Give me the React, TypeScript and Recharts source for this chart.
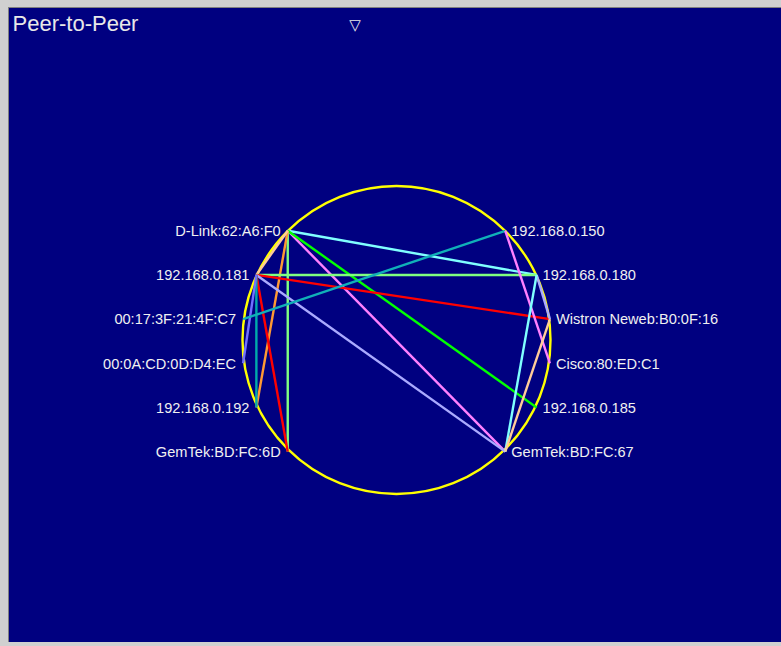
import React from 'react';
import { ScatterChart, Scatter, XAxis, YAxis, ReferenceDot } from 'recharts';

// ---- data ----
const TITLE = 'Peer-to-Peer';
const LEFT_NODES = [
  'D-Link:62:A6:F0',
  '192.168.0.181',
  '00:17:3F:21:4F:C7',
  '00:0A:CD:0D:D4:EC',
  '192.168.0.192',
  'GemTek:BD:FC:6D',
];
const RIGHT_NODES = [
  '192.168.0.150',
  '192.168.0.180',
  'Wistron Neweb:B0:0F:16',
  'Cisco:80:ED:C1',
  '192.168.0.185',
  'GemTek:BD:FC:67',
];
const EDGE_FROM = [
  'D-Link:62:A6:F0',
  'D-Link:62:A6:F0',
  'D-Link:62:A6:F0',
  'D-Link:62:A6:F0',
  'D-Link:62:A6:F0',
  'D-Link:62:A6:F0',
  '192.168.0.181',
  '192.168.0.181',
  '192.168.0.181',
  '192.168.0.181',
  '192.168.0.181',
  '192.168.0.181',
  '00:17:3F:21:4F:C7',
  '192.168.0.150',
  '192.168.0.180',
  '192.168.0.180',
  'Wistron Neweb:B0:0F:16',
];
const EDGE_TO = [
  '192.168.0.180',
  'GemTek:BD:FC:67',
  '192.168.0.185',
  'GemTek:BD:FC:6D',
  '192.168.0.192',
  '192.168.0.181',
  '192.168.0.180',
  'Wistron Neweb:B0:0F:16',
  'GemTek:BD:FC:67',
  'GemTek:BD:FC:6D',
  '192.168.0.192',
  '00:0A:CD:0D:D4:EC',
  '192.168.0.150',
  'Cisco:80:ED:C1',
  'Wistron Neweb:B0:0F:16',
  'GemTek:BD:FC:67',
  'GemTek:BD:FC:67',
];
const EDGE_COLORS = [
  '#80ffff',
  '#ff80ff',
  '#00ff00',
  '#80ff80',
  '#ff9933',
  '#ffcc99',
  '#80ff80',
  '#ff0000',
  '#aaaaff',
  '#ff0000',
  '#00aaaa',
  '#7070ff',
  '#10b0b8',
  '#ff80ff',
  '#aaaaff',
  '#80ffff',
  '#ffcc99',
];

// ---- layout ----
const W = 773;
const H = 635;
const PX = 155; // pixels per unit radius
const CX = 388.5;
const CY = 334.2;
const ROW_STEP = 0.285;
const CIRCLE_Y = (341.2 - 340) / PX;
const X_DOMAIN: [number, number] = [-CX / PX, (W - CX) / PX];
const Y_DOMAIN: [number, number] = [-(H - CY) / PX, CY / PX];

type Node = { name: string; side: 'L' | 'R'; x: number; y: number };

const buildNodes = (names: string[], side: 'L' | 'R'): Node[] =>
  names.map((name, row) => {
    const y = (2.5 - row) * ROW_STEP;
    const r = Math.sqrt(1 - y * y);
    return { name, side, x: side === 'L' ? -r : r, y };
  });

const leftNodes = buildNodes(LEFT_NODES, 'L');
const rightNodes = buildNodes(RIGHT_NODES, 'R');
const nodeMap: Record<string, Node> = {};
[...leftNodes, ...rightNodes].forEach((n) => (nodeMap[n.name] = n));

const Empty = () => <g />;

const NodeLabel = (props: any) => {
  const { cx, cy, payload } = props;
  const left = payload.side === 'L';
  return (
    <text
      x={left ? cx - 7 : cx + 6}
      y={cy}
      dy="0.36em"
      textAnchor={left ? 'end' : 'start'}
      fill="#f0f0f0"
      fontSize={14.6}
      fontFamily="'Liberation Sans', Arial, sans-serif"
    >
      {payload.name}
    </text>
  );
};

export default function App() {
  return (
    <div
      style={{
        position: 'fixed',
        left: 0,
        top: 0,
        width: 781,
        height: 646,
        background: '#d0d0d0',
        overflow: 'hidden',
      }}
    >
      <div
        style={{
          position: 'absolute',
          left: 8,
          top: 7,
          width: W,
          height: H,
          background: '#000080',
          boxShadow: 'inset 1px 1px 0 #808080',
        }}
      >
        <ScatterChart width={W} height={H} margin={{ top: 0, right: 0, bottom: 0, left: 0 }}>
          <XAxis type="number" dataKey="x" domain={X_DOMAIN} hide allowDataOverflow />
          <YAxis type="number" dataKey="y" domain={Y_DOMAIN} hide allowDataOverflow />
          <ReferenceDot
            x={0}
            y={CIRCLE_Y}
            r={154}
            fill="none"
            stroke="#ffff00"
            strokeWidth={2.4}
          />
          {EDGE_FROM.map((from, i) => (
            <Scatter
              key={'e' + i}
              data={[nodeMap[from], nodeMap[EDGE_TO[i]]]}
              fill={EDGE_COLORS[i]}
              line={{ stroke: EDGE_COLORS[i], strokeWidth: 2.4 }}
              shape={Empty}
              isAnimationActive={false}
            />
          ))}
          <Scatter data={leftNodes} shape={NodeLabel} isAnimationActive={false} />
          <Scatter data={rightNodes} shape={NodeLabel} isAnimationActive={false} />
        </ScatterChart>
        <div
          style={{
            position: 'absolute',
            left: 4.5,
            top: 3,
            color: '#e8e8e8',
            fontSize: 22,
            lineHeight: '28px',
            fontFamily: "'Liberation Sans', Arial, sans-serif",
          }}
        >
          {TITLE}
        </div>
        <div
          style={{
            position: 'absolute',
            left: 339,
            top: 8,
            width: 16,
            textAlign: 'center',
            color: '#e8e8e8',
            fontSize: 15,
            lineHeight: '20px',
            fontFamily: "'DejaVu Sans', sans-serif",
          }}
        >
          ▽
        </div>
      </div>
    </div>
  );
}
